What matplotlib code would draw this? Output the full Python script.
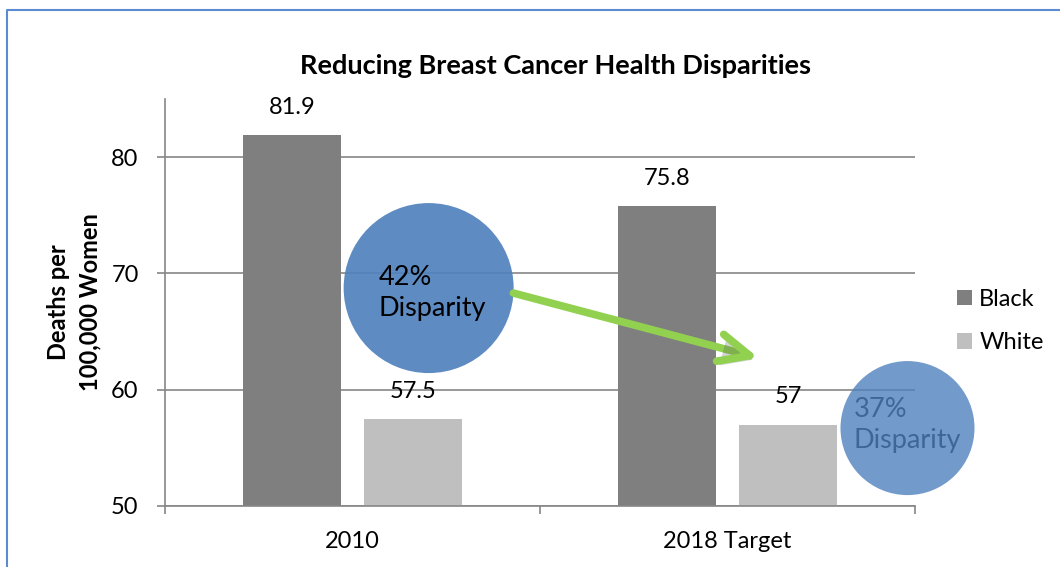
import numpy as np
import matplotlib.pyplot as plt
from matplotlib.patches import Patch
from matplotlib.lines import Line2D
import matplotlib.patheffects as pe

plt.rcParams['font.family'] = ['Lato', 'DejaVu Sans']

# data
categories = ['2010', '2018 Target']
series = ['Black', 'White']
black = [81.9, 75.8]
white = [57.5, 57]
disparity = ['42%', '37%']

bar_colors = ['#7F7F7F', '#BFBFBF']
grid_c = '#868686'
fs = 17

fig = plt.figure(figsize=(10.6, 5.67), dpi=100)
ax = fig.add_axes([0.1557, 0.1076, 0.7075, 0.7178])

x = np.arange(len(categories))
w = 0.261
off = 0.162
b1 = ax.bar(x - off, black, w, bottom=0, color=bar_colors[0], zorder=2)
b2 = ax.bar(x + off, white, w, bottom=0, color=bar_colors[1], zorder=2)

# value labels above each bar
for bars, vals in [(b1, black), (b2, white)]:
    for r, v in zip(bars, vals):
        ax.annotate(f'{v:g}', (r.get_x() + r.get_width() / 2, v),
                    xytext=(0, 20), textcoords='offset points',
                    ha='center', va='center', fontsize=fs, color='black')

ax.set_ylim(50, 85)
ax.set_xlim(-0.5, 1.5)
ax.set_yticks([50, 60, 70, 80])
ax.yaxis.grid(True, color=grid_c, lw=1.2, zorder=0)
ax.set_axisbelow(True)

ax.set_xticks(x)
ax.set_xticklabels(categories)
ax.set_xticks([-0.5, 0.5, 1.5], minor=True)
ax.tick_params(axis='x', which='major', length=0, pad=18, labelsize=fs)
ax.tick_params(axis='x', which='minor', length=6, width=1.2, color=grid_c, direction='out')
ax.tick_params(axis='y', length=6, width=1.2, color=grid_c, pad=13, labelsize=fs)

for s in ['top', 'right']:
    ax.spines[s].set_visible(False)
for s in ['left', 'bottom']:
    ax.spines[s].set_color(grid_c)
    ax.spines[s].set_linewidth(1.2)

fig.text(555 / 1060, 1 - 66 / 567, 'Reducing Breast Cancer Health Disparities',
         ha='center', va='center', fontsize=19.5, fontweight='bold')
fig.text(74 / 1060, 1 - 302 / 567, 'Deaths per\n100,000 Women', rotation=90,
         ha='center', va='center', fontsize=fs, fontweight='bold',
         linespacing=1.45, multialignment='center')

# disparity bubbles
ax.scatter([0.203], [68.74], s=14982, color='#4F81BD', alpha=0.92,
           edgecolors='none', zorder=3, clip_on=False)
ax.text(0.069, 68.3, f'{disparity[0]}\nDisparity', ha='left', va='center',
        fontsize=19.5, linespacing=1.3, zorder=4)

ax.text(1.336, 56.96, f'{disparity[1]}\nDisparity', ha='left', va='center',
        fontsize=19.5, linespacing=1.3, zorder=3, clip_on=False)
ax.scatter([1.48], [56.7], s=9312, color='#4F81BD', alpha=0.8,
           edgecolors='none', zorder=4, clip_on=False)

# arrow between the bubbles
ax.annotate('', xy=(1.083, 62.73), xytext=(0.429, 68.31),
            arrowprops=dict(arrowstyle='->,head_length=2.2,head_width=1.0',
                            color='#92D050', lw=5.5, capstyle='round',
                            joinstyle='round', shrinkA=0, shrinkB=0,
                            path_effects=[pe.SimplePatchShadow(offset=(2, -3), alpha=0.25),
                                          pe.Normal()]),
            zorder=5)

handles = [Patch(facecolor=c, edgecolor='none') for c in bar_colors]
fig.legend(handles, series, loc='center left', bbox_to_anchor=(957 / 1060, 1 - 321 / 567),
           frameon=False, fontsize=fs, handlelength=0.64, handleheight=0.64,
           handletextpad=0.3, labelspacing=0.95, borderpad=0, borderaxespad=0)

# chart frame (top and left edges)
fig.add_artist(Line2D([7 / 1060, 7 / 1060, 1.0], [0.0, 1 - 10 / 567, 1 - 10 / 567],
                      transform=fig.transFigure, color='#5B8BD0', lw=1.5))

fig.savefig('out.png', dpi=100)
